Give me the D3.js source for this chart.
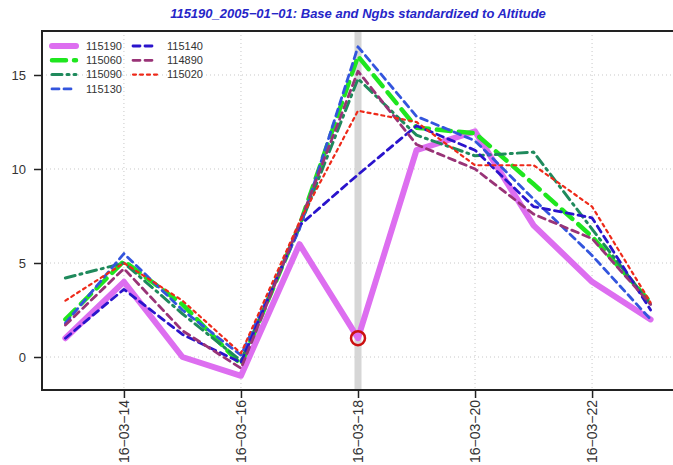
<!DOCTYPE html>
<html><head><meta charset="utf-8">
<script src="https://cdn.jsdelivr.net/npm/d3@7/dist/d3.min.js"></script>
<style>body{margin:0;background:#fff}svg{display:block;font-family:"Liberation Sans",Arial,sans-serif}</style>
</head><body><div id="chart"></div>
<script>
const dates = ["2016-03-13","2016-03-14","2016-03-15","2016-03-16","2016-03-17","2016-03-18","2016-03-19","2016-03-20","2016-03-21","2016-03-22","2016-03-23"];
const tickDates = ["2016-03-14","2016-03-16","2016-03-18","2016-03-20","2016-03-22"];
const yTicks = [0,5,10,15];
const names = ["115190","115060","115090","115130","115140","114890","115020"];
const s115190 = [1, 4, 0, -1, 6, 1, 11, 12, 7, 4, 2];
const s115060 = [2.0, 5.1, 2.8, -0.4, 7.0, 16.0, 12.2, 11.9, 9.2, 6.4, 2.9];
const s115090 = [4.2, 5.0, 2.3, -0.2, 6.9, 14.8, 11.8, 10.7, 10.9, 6.8, 2.8];
const s115130 = [1.8, 5.5, 2.5, 0.1, 6.8, 16.5, 12.8, 11.5, 8.4, 5.4, 2.0];
const s115140 = [1.0, 3.6, 1.2, -0.3, 7.0, 9.7, 12.3, 11.0, 8.0, 7.4, 2.5];
const s114890 = [1.7, 4.7, 1.4, -0.6, 7.1, 15.2, 11.3, 10.0, 7.6, 6.3, 2.8];
const s115020 = [3.0, 5.0, 3.0, 0.2, 7.2, 13.1, 12.5, 10.2, 10.2, 8.0, 2.9];
const highlightDate = "2016-03-18";
const highlightValue = 1;
const title = "115190_2005−01−01: Base and Ngbs standardized to Altitude";

const seriesValues = [s115190, s115060, s115090, s115130, s115140, s114890, s115020];
const styles = [
  {color:"#dd6ef0", w:6, dash:null},
  {color:"#1fe61f", w:4.5, dash:"14,8"},
  {color:"#1f8a5c", w:3, dash:"10,5,2,5"},
  {color:"#3355dd", w:2.8, dash:"7,5"},
  {color:"#2a14cc", w:2.8, dash:"7,5"},
  {color:"#993377", w:2.8, dash:"7,5"},
  {color:"#ee2a1a", w:2.2, dash:"3,4"}
];

const W = 673, H = 465;
const L = 42, T = 31, R = 674, B = 390;
const parse = d3.utcParse("%Y-%m-%d");
const fmt = d => d3.utcFormat("%y-%m-%d")(d).replace(/-/g, "−");
const dayMs = 86400000;
const d0 = parse(dates[0]), d1 = parse(dates[dates.length-1]);
const x = d3.scaleUtc().domain([new Date(+d0 - 0.4*dayMs), new Date(+d1 + 0.4*dayMs)]).range([L, R]);
const y = d3.scaleLinear().domain([-1.755, 17.34]).range([B, T]);

const svg = d3.select("#chart").append("svg").attr("width", W).attr("height", H);

// grid
const grid = svg.append("g");
grid.selectAll("line.gx").data(tickDates).join("line")
  .attr("x1", d => x(parse(d))).attr("x2", d => x(parse(d)))
  .attr("y1", T).attr("y2", B)
  .attr("stroke", "#c8c8c8").attr("stroke-width", 1).attr("stroke-dasharray", "1,3");
grid.selectAll("line.gy").data(yTicks).join("line")
  .attr("x1", L).attr("x2", R)
  .attr("y1", d => y(d)).attr("y2", d => y(d))
  .attr("stroke", "#c8c8c8").attr("stroke-width", 1).attr("stroke-dasharray", "1,3");

// highlight bar
svg.append("line")
  .attr("x1", x(parse(highlightDate))).attr("x2", x(parse(highlightDate)))
  .attr("y1", T).attr("y2", B)
  .attr("stroke", "#d6d6d6").attr("stroke-width", 7);

// lines
const line = d3.line().x((d,i) => x(parse(dates[i]))).y(d => y(d));
seriesValues.forEach((vals, k) => {
  const st = styles[k];
  svg.append("path").datum(vals)
    .attr("d", line)
    .attr("fill", "none")
    .attr("stroke", st.color)
    .attr("stroke-width", st.w)
    .attr("stroke-linejoin", "round")
    .attr("stroke-linecap", "round")
    .attr("stroke-dasharray", st.dash);
});

// highlight circle
svg.append("circle")
  .attr("cx", x(parse(highlightDate))).attr("cy", y(highlightValue))
  .attr("r", 7).attr("fill", "none").attr("stroke", "#cc1111").attr("stroke-width", 2.5);

// frame
svg.append("rect").attr("x", L).attr("y", T).attr("width", R - L).attr("height", B - T)
  .attr("fill", "none").attr("stroke", "#222").attr("stroke-width", 2);

// axes
const yAxis = svg.append("g").attr("transform", `translate(${L},0)`)
  .call(d3.axisLeft(y).tickValues(yTicks).tickSize(8).tickPadding(8).tickFormat(d3.format("d")));
yAxis.select(".domain").remove();
yAxis.selectAll("line").attr("stroke", "#222").attr("stroke-width", 1.5);
yAxis.selectAll("text").attr("font-size", 13).attr("fill", "#333").attr("font-family", "Liberation Sans, Arial, sans-serif");

const xAxis = svg.append("g").attr("transform", `translate(0,${B})`)
  .call(d3.axisBottom(x).tickValues(tickDates.map(parse)).tickSize(8).tickFormat(fmt));
xAxis.select(".domain").remove();
xAxis.selectAll("line").attr("stroke", "#222").attr("stroke-width", 1.5);
xAxis.selectAll("text")
  .attr("font-size", 14).attr("fill", "#333").attr("font-family", "Liberation Sans, Arial, sans-serif")
  .attr("transform", "rotate(-90)")
  .attr("text-anchor", "end")
  .attr("x", -10).attr("y", 0).attr("dy", "0.35em");

// title
svg.append("text").attr("x", (L + R) / 2).attr("y", 18)
  .attr("text-anchor", "middle").attr("font-size", 13)
  .attr("font-weight", "bold").attr("font-style", "italic")
  .attr("fill", "#2626c8").text(title);

// legend
const leg = svg.append("g");
const legPos = [
  {sx:50, tx:86, row:0},{sx:50, tx:86, row:1},{sx:50, tx:86, row:2},{sx:50, tx:86, row:3},
  {sx:131, tx:167, row:0},{sx:131, tx:167, row:1},{sx:131, tx:167, row:2}
];
names.forEach((n, k) => {
  const p = legPos[k], st = styles[k];
  const yy = 46 + p.row * 14.3;
  leg.append("line").attr("x1", p.sx + 2).attr("x2", p.sx + 26).attr("y1", yy).attr("y2", yy)
    .attr("stroke", st.color).attr("stroke-width", st.w).attr("stroke-linecap", "round")
    .attr("stroke-dasharray", st.dash);
  leg.append("text").attr("x", p.tx).attr("y", yy).attr("dy", "0.35em")
    .attr("font-size", 11).attr("fill", "#333").text(n);
});
</script></body></html>
